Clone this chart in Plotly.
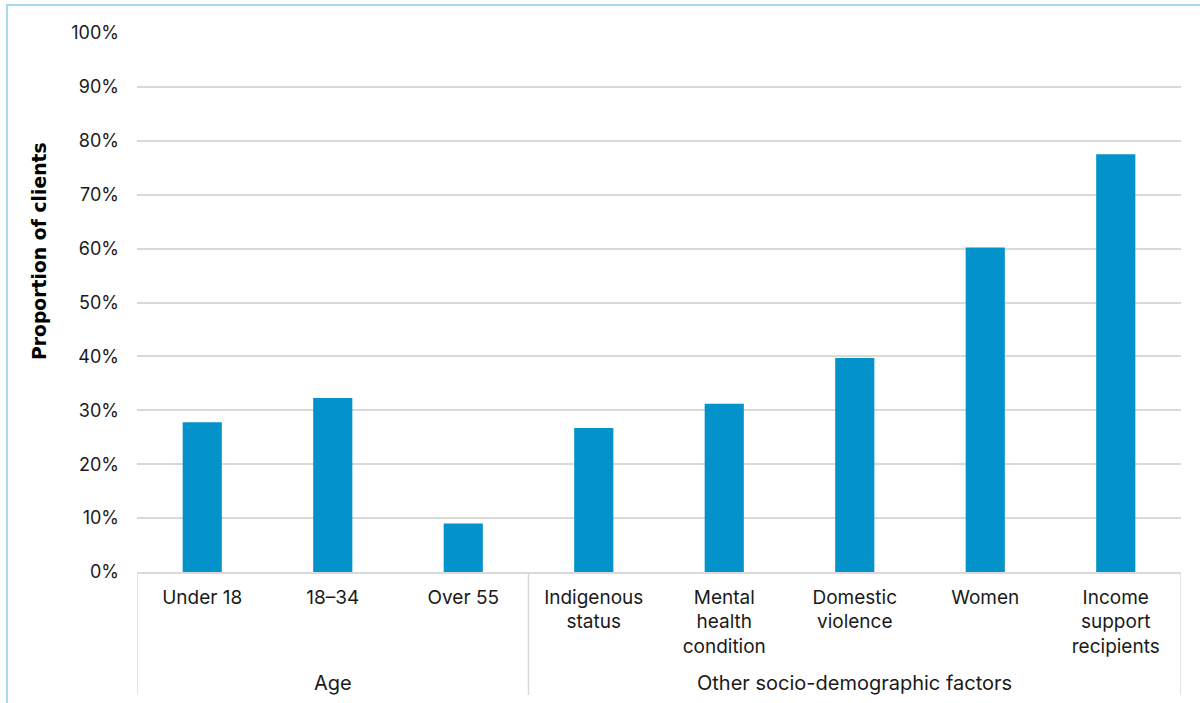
import plotly.graph_objects as go

# Share of clients by client characteristic
categories = ["Under 18", "18–34", "Over 55", "Indigenous status",
              "Mental health condition", "Domestic violence", "Women",
              "Income support recipients"]
tick_labels = ["Under 18", "18–34", "Over 55", "Indigenous<br>status",
               "Mental<br>health<br>condition", "Domestic<br>violence", "Women",
               "Income<br>support<br>recipients"]
values = [27.8, 32.3, 9.0, 26.7, 31.2, 39.7, 60.2, 77.5]
groups = ["Age", "Other socio-demographic factors"]
group_sizes = [3, 5]
y_ticks = list(range(0, 101, 10))
y_tick_labels = [f"{v}%" for v in y_ticks]

BAR = "#0393CA"
GRID = "#D9D9D9"
FONT = "Inter"
TXT = "#1a1a1a"

W, H = 1200, 703
L, R, T, B = 137, 19, 33, 131
plot_h = H - T - B
plot_w = W - L - R


def py(pix):
    """Convert a pixel row to paper y."""
    return (H - B - pix) / plot_h


def px(pix):
    """Convert a pixel column to paper x."""
    return (pix - L) / plot_w


x_pos = list(range(len(categories)))

fig = go.Figure(go.Bar(
    x=x_pos, y=values, marker=dict(color=BAR, line=dict(width=0)),
    width=0.3, hovertext=categories,
))

shapes = []
annotations = []

# Group dividers below the axis and group labels
start = 0
bounds = [-0.5]
for g, n in zip(groups, group_sizes):
    end = start + n
    bounds.append(end - 0.5)
    annotations.append(dict(
        x=(start + end - 1) / 2, y=py(683), xref="x", yref="paper",
        text=g, showarrow=False, yanchor="middle",
        font=dict(family=FONT, size=20, color=TXT),
    ))
    start = end
for b in bounds:
    shapes.append(dict(type="line", xref="x", yref="paper",
                       x0=b, x1=b, y0=0, y1=py(695),
                       line=dict(color=GRID, width=1.5)))

# Outer frame (left and top edges)
shapes.append(dict(type="path", xref="paper", yref="paper",
                   path=f"M {px(7)} {py(720)} L {px(7)} {py(5)} L {px(1215)} {py(5)}",
                   line=dict(color="#A9D9EF", width=2)))

# Y axis title
annotations.append(dict(
    x=px(39), y=py(251), xref="paper", yref="paper",
    text="<b>Proportion of clients</b>", textangle=-90, showarrow=False,
    xanchor="center", yanchor="middle",
    font=dict(family="DejaVu Sans", size=18.8, color="#000000"),
))

fig.update_layout(
    width=W, height=H,
    margin=dict(l=L, r=R, t=T, b=B),
    paper_bgcolor="white", plot_bgcolor="white",
    showlegend=False, bargap=0.7,
    font=dict(family=FONT, size=18, color=TXT),
    shapes=shapes, annotations=annotations,
    xaxis=dict(
        range=[-0.5, len(categories) - 0.5],
        tickmode="array", tickvals=x_pos, ticktext=tick_labels,
        showgrid=False, zeroline=False, ticks="",
        showline=True, linecolor=GRID, linewidth=1.5,
        ticklabelstandoff=7,
        tickfont=dict(family=FONT, size=19, color=TXT),
    ),
    yaxis=dict(
        range=[0, 100], tickmode="array", tickvals=y_ticks, ticktext=y_tick_labels,
        showgrid=True, gridcolor=GRID, gridwidth=1.5,
        zeroline=False, showline=False, ticks="",
        ticklabelstandoff=17,
        tickfont=dict(family=FONT, size=18, color=TXT),
    ),
)

fig.write_html("out.html")
